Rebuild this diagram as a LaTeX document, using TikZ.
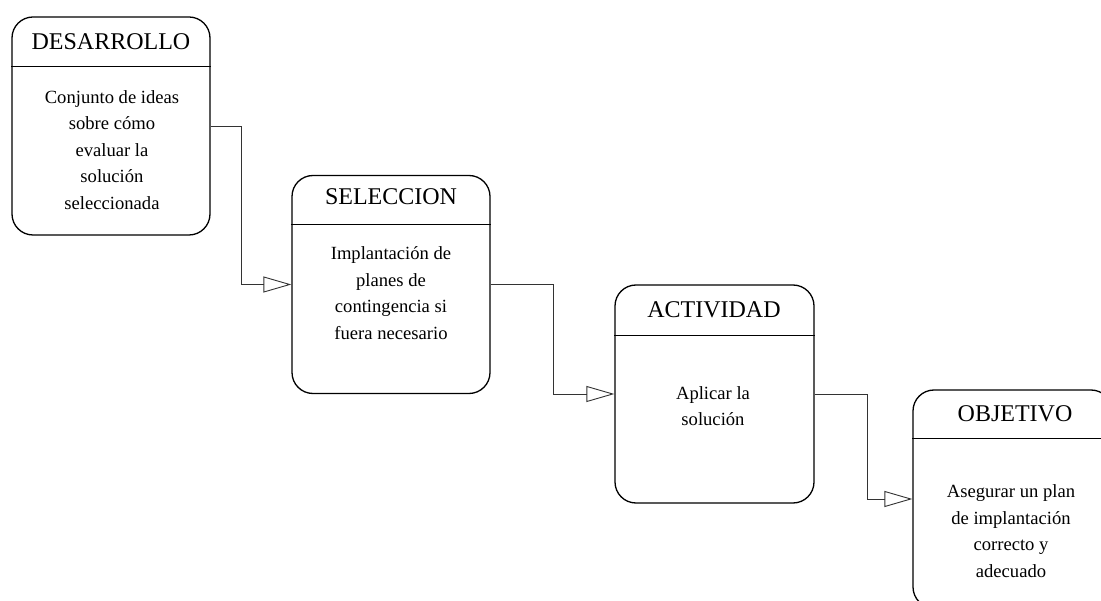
\documentclass[tikz,border=0pt]{standalone}
\usepackage{fontspec}
\setmainfont{Liberation Serif}
\usetikzlibrary{arrows.meta}
\tikzset{
  box/.style={draw, line width=1.3pt, rounded corners=21pt, minimum width=198pt, minimum height=218pt, inner sep=0pt},
  ttl/.style={font=\fontsize{24}{28}\selectfont, inner sep=0pt},
  body/.style={font=\fontsize{18.6}{26.5}\selectfont, align=center, inner sep=0pt},
  conn/.style={line width=0.9pt, draw=black!80, -{Triangle[open, length=28pt, width=16pt, line width=0.9pt]}},
  hdr/.style={line width=0.9pt}
}
\begin{document}
\begin{tikzpicture}[x=1pt, y=-1pt]
\useasboundingbox (0,0) rectangle (1101,601);
\clip (0,0) rectangle (1101,601);
\fill[white] (0,0) rectangle (1101,601);
% DESARROLLO
\node[box] (d) at (111,126) {};
\draw[hdr] ([yshift=-50pt]d.north west) -- ([yshift=-50pt]d.north east);
\node[ttl] (dt) at (111,42) {DESARROLLO};
\node[body] (db) at (112,150) {Conjunto de ideas\\sobre cómo\\evaluar la\\solución\\seleccionada};
% SELECCION
\node[box] (s) at (391,284.5) {};
\draw[hdr] ([yshift=-50pt]s.north west) -- ([yshift=-50pt]s.north east);
\node[ttl] (st) at (391,197) {SELECCION};
\node[body] (sb) at (391,293) {Implantación de\\planes de\\contingencia si\\fuera necesario};
% ACTIVIDAD
\node[box, minimum width=199pt] (a) at (714.5,394) {};
\draw[hdr] ([yshift=-51pt]a.north west) -- ([yshift=-51pt]a.north east);
\node[ttl] (at) at (714,310) {ACTIVIDAD};
\node[body] (ab) at (713,406) {Aplicar la\\solución};
% OBJETIVO
\node[box, minimum width=199pt] (o) at (1012.5,499) {};
\draw[hdr] ([yshift=-49pt]o.north west) -- ([yshift=-49pt]o.north east);
\node[ttl] (ot) at (1015,414) {OBJETIVO};
\node[body] (ob) at (1011,531) {Asegurar un plan\\de implantación\\correcto y\\adecuado};
% connectors
\draw[conn] (d.east) -- ++(31,0) |- (s.west);
\draw[conn] (s.east) -- ++(63,0) |- (a.west);
\draw[conn] (a.east) -- ++(53,0) |- (o.west);
\end{tikzpicture}
\end{document}
